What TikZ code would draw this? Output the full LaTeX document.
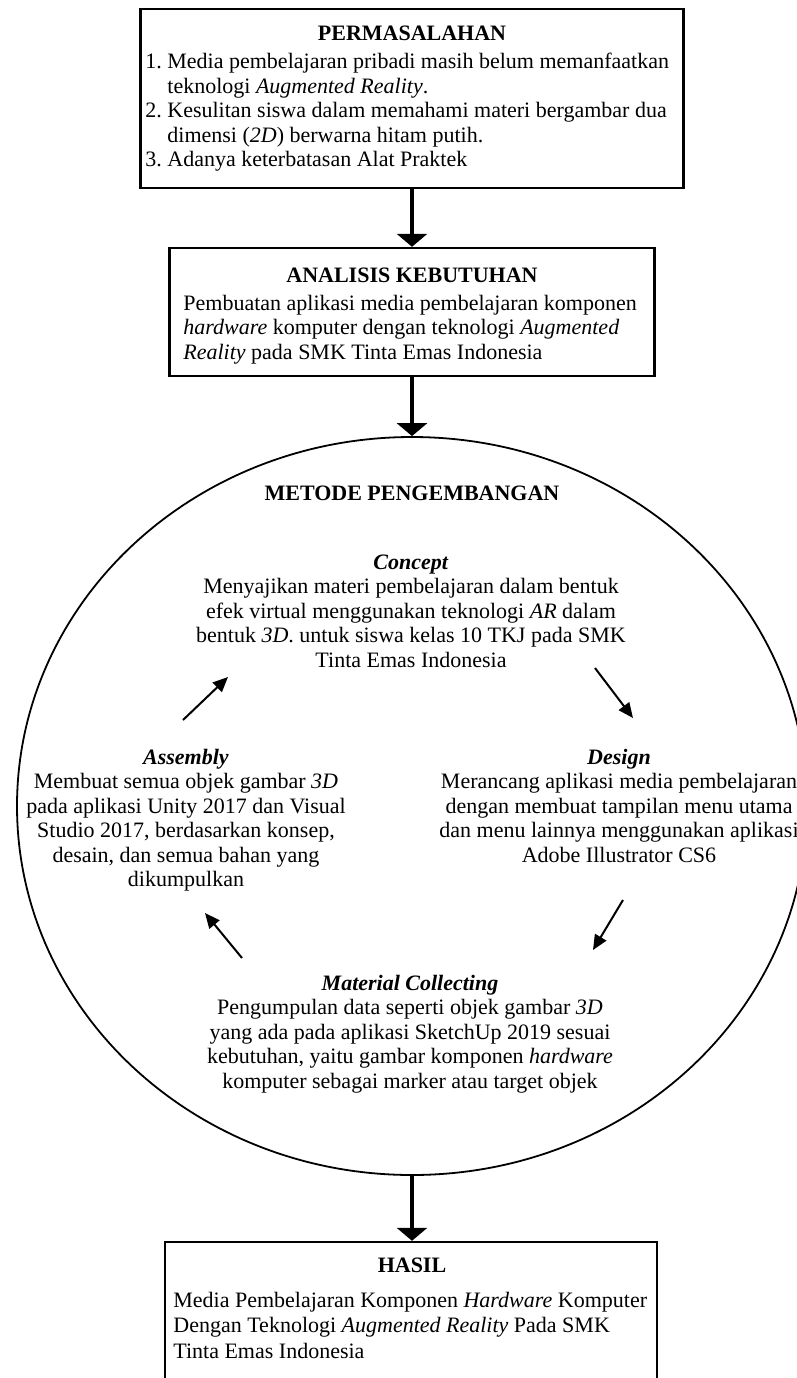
\documentclass[tikz,border=0pt]{standalone}
\usepackage{fontspec}
\setmainfont{Liberation Serif}
\usetikzlibrary{arrows.meta,shapes.geometric}

\tikzset{
  >={Triangle[width=15pt,length=6.5pt]},   % panah besar
  kotak/.style={draw,line width=1.2pt,inner sep=0pt},
  judul/.style={font=\fontsize{11}{12.25}\selectfont\bfseries,inner sep=0pt},
  isi/.style={font=\fontsize{11}{12.25}\selectfont,inner sep=0pt},
  panah/.style={->,line width=2pt},
  siklus/.style={-{Triangle[width=6.5pt,length=7.5pt]},line width=1pt},
}
\newcommand{\nomor}[1]{\makebox[11pt][l]{#1}}

\begin{document}
\begin{tikzpicture}[x=1pt,y=-1pt]
	\useasboundingbox (0,0) rectangle (398.5,689);
	\clip (0,0) rectangle (398.5,689);

	% kotak-kotak
	\node[kotak,minimum width=271.5pt,minimum height=89.5pt] (masalah) at (206,49.25) {};
	\node[kotak,minimum width=242.5pt,minimum height=64pt] (analisis) at (206,156) {};
	\node[draw,ellipse,line width=0.9pt,inner sep=0pt,minimum width=395pt,minimum height=369pt] (metode) at (206,403) {};
	\node[kotak,minimum width=246pt,minimum height=79pt] (hasil) at (205.5,660.5) {};

	% panah antar tahap
	\draw[panah] (masalah) -- (analisis);
	\draw[panah] (analisis) -- (metode);
	\draw[panah] (metode) -- (metode |- hasil.north);

	% permasalahan
	\node[judul,anchor=base] (tmasalah) at (206,20.1) {PERMASALAHAN};
	\node[isi,anchor=north west,align=left] (imasalah) at (72.5,26.4) {%
		\nomor{1.}Media pembelajaran pribadi masih belum memanfaatkan\\
		\nomor{}teknologi \textit{Augmented Reality}.\\
		\nomor{2.}Kesulitan siswa dalam memahami materi bergambar dua\\
		\nomor{}dimensi (\textit{2D}) berwarna hitam putih.\\
		\nomor{3.}Adanya keterbatasan Alat Praktek};

	% analisis kebutuhan
	\node[judul,anchor=base] (tanalisis) at (206,141.1) {ANALISIS KEBUTUHAN};
	\node[isi,anchor=north west,align=left] (ianalisis) at (91.5,147.4) {%
		Pembuatan aplikasi media pembelajaran komponen\\
		\textit{hardware} komputer dengan teknologi \textit{Augmented}\\
		\textit{Reality} pada SMK Tinta Emas Indonesia};

	% metode pengembangan
	\node[judul,anchor=base] (tmetode) at (206,250.1) {METODE PENGEMBANGAN};
	\node[isi,anchor=north,align=center] (concept) at (205.5,277.2) {%
		\textbf{\textit{Concept}}\\
		Menyajikan materi pembelajaran dalam bentuk\\
		efek virtual menggunakan teknologi \textit{AR} dalam\\
		bentuk \textit{3D}. untuk siswa kelas 10 TKJ pada SMK\\
		Tinta Emas Indonesia};
	\node[isi,anchor=north,align=center] (design) at (309.5,374.2) {%
		\textbf{\textit{Design}}\\
		Merancang aplikasi media pembelajaran\\
		dengan membuat tampilan menu utama\\
		dan menu lainnya menggunakan aplikasi\\
		Adobe Illustrator CS6};
	\node[isi,anchor=north,align=center] (material) at (205,487.2) {%
		\textbf{\textit{Material Collecting}}\\
		Pengumpulan data seperti objek gambar \textit{3D}\\
		yang ada pada aplikasi SketchUp 2019 sesuai\\
		kebutuhan, yaitu gambar komponen \textit{hardware}\\
		komputer sebagai marker atau target objek};
	\node[isi,anchor=north,align=center] (assembly) at (93,374.2) {%
		\textbf{\textit{Assembly}}\\
		Membuat semua objek gambar \textit{3D}\\
		pada aplikasi Unity 2017 dan Visual\\
		Studio 2017, berdasarkan konsep,\\
		desain, dan semua bahan yang\\
		dikumpulkan};

	% siklus
	\coordinate (ac1) at (91.5,360);   \coordinate (ac2) at (114,338.5);
	\coordinate (cd1) at (297.5,334);  \coordinate (cd2) at (316.5,359);
	\coordinate (dm1) at (311.5,450);  \coordinate (dm2) at (296.5,475);
	\coordinate (ma1) at (121,479);    \coordinate (ma2) at (102.5,456.5);
	\draw[siklus] (ac1) -- (ac2);
	\draw[siklus] (cd1) -- (cd2);
	\draw[siklus] (dm1) -- (dm2);
	\draw[siklus] (ma1) -- (ma2);

	% hasil
	\node[judul,anchor=base] (thasil) at (206,636.1) {HASIL};
	\node[isi,anchor=north west,align=left,font=\fontsize{11}{12.7}\selectfont] (ihasil) at (86.5,645.9) {%
		Media Pembelajaran Komponen \textit{Hardware} Komputer\\
		Dengan Teknologi \textit{Augmented Reality} Pada SMK\\
		Tinta Emas Indonesia};
\end{tikzpicture}
\end{document}
